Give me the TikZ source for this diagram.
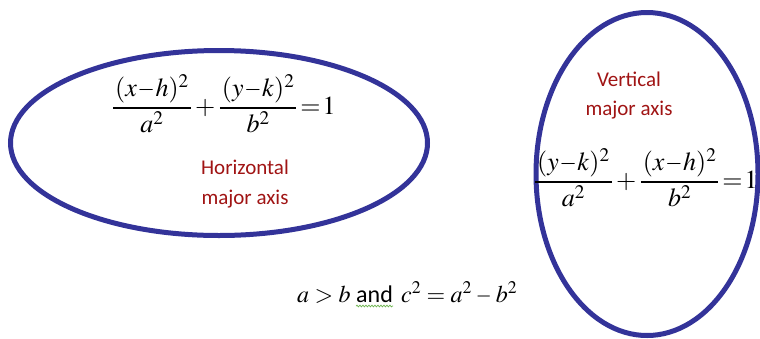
\documentclass[tikz,border=0pt]{standalone}
\usepackage{mathptmx}
\usepackage[no-math]{fontspec}
\setmainfont{Liberation Serif}
\newfontfamily\cali{Carlito}
\usetikzlibrary{calc,decorations.pathmorphing}
\definecolor{ellblue}{RGB}{51,51,153}
\definecolor{lblred}{RGB}{160,20,20}
\definecolor{wavegreen}{RGB}{110,180,80}
\newcommand\mns{\mkern0.5mu\scalebox{0.85}[1]{$-$}\mkern0.5mu}
\newcommand\bmns{\mkern3mu\scalebox{0.85}[1]{$-$}\mkern3mu}
\newcommand\nmr[2]{\kern2pt(#1\mns#2)^2\kern2pt}
\newcommand\fracs[4]{$\displaystyle\nulldelimiterspace=0pt
  \frac{\nmr{#1}{#2}}{a^2}\kern4.5pt{+}\kern4.5pt
  \frac{\nmr{#3}{#4}}{b^2}\kern4pt{=}\kern2pt 1$}
\tikzset{
  ell/.style={draw=ellblue, line width=5pt},
  eqn/.style={anchor=base west, inner sep=0pt, font=\fontsize{26}{30}\selectfont},
  lbl/.style={anchor=base, inner sep=0pt, text=lblred, font=\cali\fontsize{21}{25}\selectfont},
  btm/.style={anchor=base west, inner sep=0pt, font=\fontsize{24}{28}\selectfont},
  btmtxt/.style={anchor=base west, inner sep=0pt, font=\cali\fontsize{24}{28}\selectfont},
  wavy/.style={draw=wavegreen, line width=0.7pt, decorate, decoration={snake, amplitude=0.9pt, segment length=3pt}}
}
\begin{document}
\begin{tikzpicture}[x=1pt, y=-1pt]
\useasboundingbox (0,0) rectangle (760,338);
% ellipses
\draw[ell] (219,143) ellipse [x radius=208.5pt, y radius=92.5pt];
\draw[ell] (647,174) ellipse [x radius=111pt, y radius=161.5pt];
% horizontal equation and label
\node[eqn] (eqh) at (113,114.5) {\fracs{x}{h}{y}{k}};
\node[lbl] (h1) at (245,174) {Horizontal};
\node[lbl] (h2) at (245,204) {major axis};
% vertical label and equation
\node[lbl] (v1) at (629,86) {Vertical};
\node[lbl] (v2) at (629,115) {major axis};
\node[eqn] (eqv) at (535,188.5) {\fracs{y}{k}{x}{h}};
% bottom relation
\node[btm] (ab) at (297,302) {$a>b$};
\node[btmtxt] (and) at (356,302) {and};
\node[btm] (cc) at (401,302) {$c^2=a^2\bmns b^2$};
\draw[wavy] ($(and.base west)+(0,4)$) -- ($(and.base east)+(0,4)$);
\end{tikzpicture}
\end{document}
